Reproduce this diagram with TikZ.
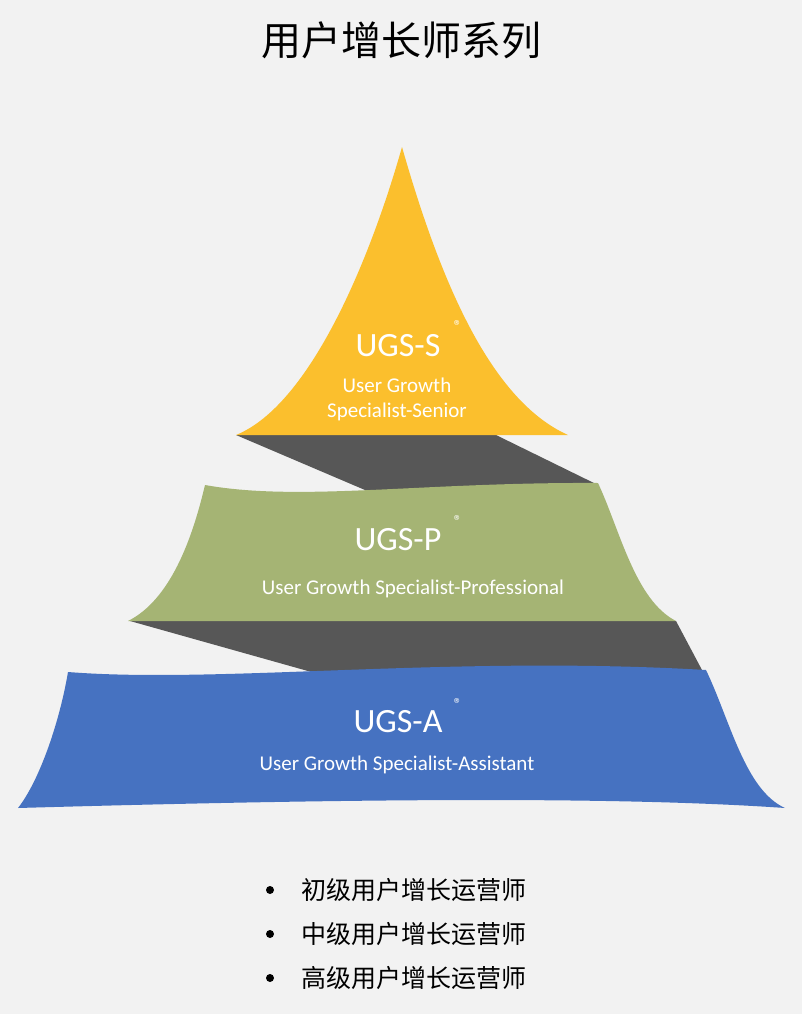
\documentclass[tikz,border=0pt]{standalone}
\usepackage{fontspec}
\setmainfont{Carlito}
\newfontfamily\cjk{Noto Sans CJK SC}
\definecolor{bgray}{HTML}{F2F2F2}
\definecolor{ugsyellow}{HTML}{FBBF2D}
\definecolor{ugsgreen}{HTML}{A5B474}
\definecolor{ugsblue}{HTML}{4672C1}
\definecolor{ugsdark}{HTML}{575757}
\tikzset{
  levelname/.style={text=white, font=\fontsize{34}{36}\selectfont},
  levelsub/.style={text=white, font=\fontsize{21}{25}\selectfont, align=center},
  mark r/.style={text=white, font=\fontsize{16}{16}\selectfont},
  bullettext/.style={anchor=west, font=\cjk\fontsize{25}{28}\selectfont}
}
\begin{document}
\begin{tikzpicture}[x=1pt,y=-1pt]
    \fill[bgray] (0,0) rectangle (802,1014);
    \useasboundingbox (0,0) rectangle (802,1014);
    \node (title) at (401,40) {\cjk\fontsize{40}{44}\selectfont 用户增长师系列};

    % dark bands
    \fill[ugsdark] (236,435) -- (496,435) -- (598,485) -- (372,493) -- cycle;
    \fill[ugsdark] (130,621) -- (676,621) -- (702,670) -- (315,673) -- cycle;

    % senior
    \fill[ugsyellow] (236,435) .. controls (310,405) and (370,260) .. (402,147)
        .. controls (440,280) and (490,400) .. (568,435) -- cycle;
    % professional
    \fill[ugsgreen] (205,485) .. controls (300,502) and (420,482) .. (598,483)
        .. controls (620,530) and (635,600) .. (676,621) -- (128,621)
        .. controls (170,600) and (192,540) .. (205,485) -- cycle;
    % assistant
    \fill[ugsblue] (68,672) .. controls (220,684) and (450,655) .. (706,670)
        .. controls (730,720) and (745,790) .. (785,808)
        .. controls (600,795) and (300,800) .. (18,808)
        .. controls (40,780) and (60,720) .. (68,672) -- cycle;

    \node[levelname] (ugss) at (398,346) {UGS-S};
    \node[mark r] at (458,326) {®};
    \node[levelsub] (ugsssub) at (397,399) {User Growth\\Specialist-Senior};
    \node[levelname] (ugsp) at (398,540) {UGS-P};
    \node[mark r] at (458,521) {®};
    \node[levelsub] (ugspsub) at (413,589) {User Growth Specialist-Professional};
    \node[levelname] (ugsa) at (398,722) {UGS-A};
    \node[mark r] at (458,704) {®};
    \node[levelsub] (ugsasub) at (397,765) {User Growth Specialist-Assistant};

    \foreach \y/\txt in {890/初级用户增长运营师,934/中级用户增长运营师,978/高级用户增长运营师}{
        \fill (270,\y) circle (4);
        \node[bullettext] at (298,\y) {\txt};
    }
\end{tikzpicture}
\end{document}
